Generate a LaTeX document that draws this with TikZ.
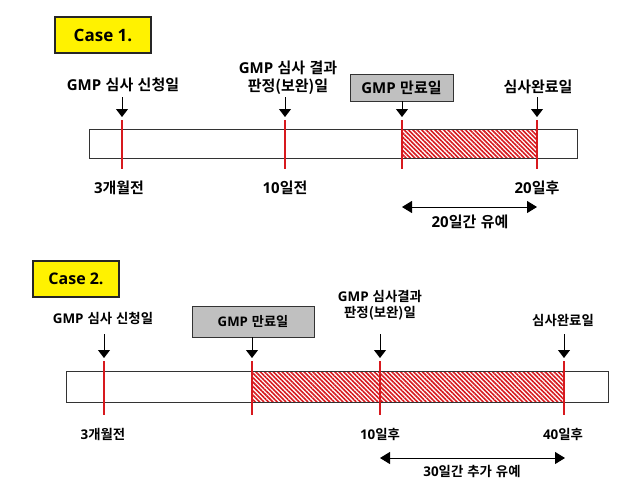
\documentclass[tikz,border=0pt]{standalone}
\usepackage{fontspec}
\setmainfont{Noto Sans CJK KR Bold}[WordSpace=1.3]
\newfontfamily\latf{Open Sans Bold}
\newcommand{\lt}[1]{{\latf #1}}
\usetikzlibrary{arrows.meta,patterns.meta}
\definecolor{barred}{RGB}{215,25,30}
\definecolor{boxgray}{RGB}{192,192,192}
\begin{document}
\begin{tikzpicture}[x=1pt,y=-1pt,
  lblA/.style={font=\fontsize{15}{18}\selectfont, align=center, inner sep=0pt},
  lblB/.style={font=\fontsize{13.4}{15.5}\selectfont, align=center, inner sep=0pt},
  casebox/.style={draw=black!85, line width=1.2pt, fill=yellow, minimum height=36pt, inner sep=0pt},
  graybox/.style={draw=black!80, line width=0.8pt, fill=boxgray, inner sep=0pt},
  barbox/.style={draw=black!80, line width=0.9pt},
  hatch/.style={pattern={Lines[angle=-45,distance=3.1pt,line width=1.6pt]}, pattern color=barred},
  redline/.style={draw=barred, line width=1.8pt},
  pointer/.style={-{Triangle[width=12pt,length=8pt]}, line width=1pt, shorten >=3pt},
  span/.style={{Triangle[width=12pt,length=10pt]}-{Triangle[width=12pt,length=10pt]}, line width=1pt}
]
\useasboundingbox (0,0) rectangle (631,493);
\fill[white] (0,0) rectangle (631,493);

% ---------------- Case 1 ----------------
\node[casebox, minimum width=96pt, font=\latf\fontsize{17}{19}\selectfont] (c1) at (103,35) {Case 1.};

\fill[white] (89,129) rectangle (577,158);
\fill[hatch] (402,129) rectangle (537,158);
\draw[barbox] (89,129) rectangle (577,158);

\coordinate (t1a) at (122,120); \coordinate (b1a) at (122,169);
\coordinate (t1b) at (285,120); \coordinate (b1b) at (285,169);
\coordinate (t1c) at (402,120); \coordinate (b1c) at (402,169);
\coordinate (t1d) at (537,120); \coordinate (b1d) at (537,169);
\foreach \k in {a,b,c,d} \draw[redline] (t1\k) -- (b1\k);

\node[lblA] (l1a) at (123,85) {\lt{GMP} 심사 신청일};
\node[lblA] (l1b) at (288,78) {\lt{GMP} 심사 결과\\판정(보완)일};
\node[graybox, minimum width=103pt, minimum height=27pt, font=\fontsize{15}{17}\selectfont] (g1) at (401.5,87.5) {\lt{GMP} 만료일};
\node[lblA] (l1d) at (538,87) {심사완료일};

\draw[pointer] (t1a |- 0,97) -- (t1a);
\draw[pointer] (t1b |- 0,97) -- (t1b);
\draw[pointer] (g1.south -| t1c) -- (t1c);
\draw[pointer] (t1d |- 0,97) -- (t1d);

\node[lblA] (d1a) at (119,188) {\lt{3}개월전};
\node[lblA] (d1b) at (285,188) {\lt{10}일전};
\node[lblA] (d1d) at (537,188) {\lt{20}일후};

\coordinate (s1a) at (402,207); \coordinate (s1b) at (537,207);
\draw[span] (s1a) -- (s1b);
\node[lblA] (p1) at (470,222) {\lt{20}일간 유예};

% ---------------- Case 2 ----------------
\node[casebox, minimum width=86pt, font=\latf\fontsize{16}{18}\selectfont] (c2) at (76,279) {Case 2.};

\fill[white] (66,371) rectangle (608,402);
\fill[hatch] (252,371) rectangle (564,402);
\draw[barbox] (66,371) rectangle (608,402);

\coordinate (t2a) at (104,361); \coordinate (b2a) at (104,415);
\coordinate (t2b) at (252,361); \coordinate (b2b) at (252,415);
\coordinate (t2c) at (380,361); \coordinate (b2c) at (380,415);
\coordinate (t2d) at (564,361); \coordinate (b2d) at (564,415);
\foreach \k in {a,b,c,d} \draw[redline] (t2\k) -- (b2\k);

\node[lblB] (l2a) at (103,318) {\lt{GMP} 심사 신청일};
\node[graybox, minimum width=122pt, minimum height=31pt, font=\fontsize{13.2}{15}\selectfont] (g2) at (253,321.5) {\lt{GMP} 만료일};
\node[lblB] (l2c) at (380,305) {\lt{GMP} 심사결과\\판정(보완)일};
\node[lblB] (l2d) at (563,320) {심사완료일};

\draw[pointer] (t2a |- 0,334) -- (t2a);
\draw[pointer] (g2.south -| t2b) -- (t2b);
\draw[pointer] (t2c |- 0,334) -- (t2c);
\draw[pointer] (t2d |- 0,334) -- (t2d);

\node[lblB] (d2a) at (103,434) {\lt{3}개월전};
\node[lblB] (d2c) at (380,434) {\lt{10}일후};
\node[lblB] (d2d) at (563,434) {\lt{40}일후};

\coordinate (s2a) at (380,458); \coordinate (s2b) at (565,458);
\draw[span] (s2a) -- (s2b);
\node[lblB] (p2) at (472,471) {\lt{30}일간 추가 유예};
\end{tikzpicture}
\end{document}
